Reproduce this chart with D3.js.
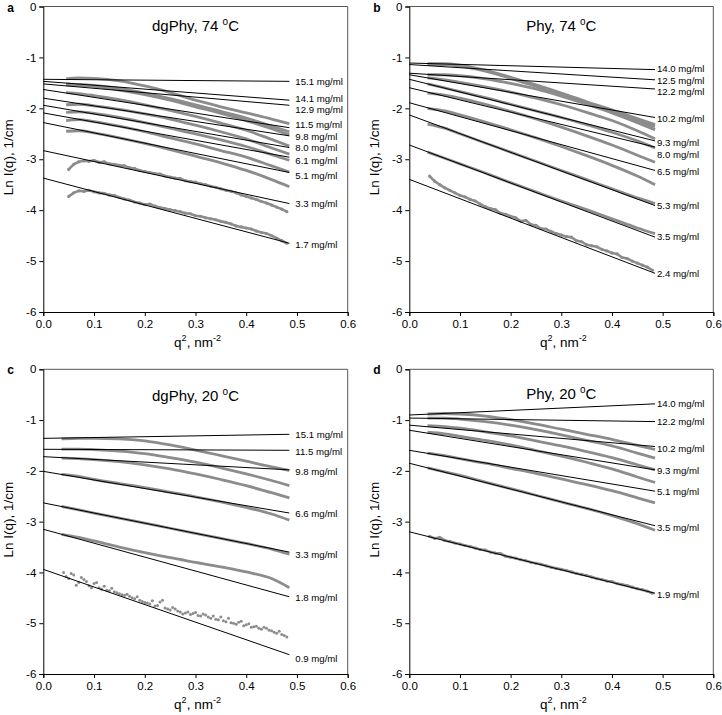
<!DOCTYPE html>
<html>
<head>
<meta charset="utf-8">
<script src="https://cdn.jsdelivr.net/npm/d3@7"></script>
<style>
body { margin: 0; background: #fff; }
text { font-family: Arial, "Liberation Sans", sans-serif; }
</style>
</head>
<body>
<svg id="fig" width="722" height="715"></svg>
<script>
// ---- data ----
const panelLetters = ['a', 'b', 'c', 'd'];
const panelNames = ['dgPhy, 74 ', 'Phy, 74 ', 'dgPhy, 20 ', 'Phy, 20 '];
const xTicks = [0, 0.1, 0.2, 0.3, 0.4, 0.5, 0.6];
const yTicks = [0, -1, -2, -3, -4, -5, -6];
const qFitEnd = 0.485;

// q^2 grids of the gray (measured) curves
const qSmoothA = [0.045, 0.07, 0.1, 0.15, 0.2, 0.25, 0.3, 0.35, 0.4, 0.45, 0.485];
const qSmooth = [0.036, 0.07, 0.1, 0.15, 0.2, 0.25, 0.3, 0.35, 0.4, 0.45, 0.485];
const qFine = [0.04, 0.05, 0.06, 0.07, 0.08, 0.09, 0.10, 0.11, 0.12, 0.13, 0.14, 0.15,
  0.16, 0.17, 0.18, 0.19, 0.20, 0.21, 0.22, 0.23, 0.24, 0.25, 0.26, 0.27, 0.28, 0.29,
  0.30, 0.31, 0.32, 0.33, 0.34, 0.35, 0.36, 0.37, 0.38, 0.39, 0.40, 0.41, 0.42, 0.43,
  0.44, 0.45, 0.46, 0.47, 0.48];
const qFineMid = [0.045, 0.055, 0.065, 0.075, 0.085, 0.095, 0.105, 0.115, 0.125, 0.135,
  0.145, 0.155, 0.165, 0.175, 0.185, 0.195, 0.205, 0.215, 0.225, 0.235, 0.245, 0.255,
  0.265, 0.275, 0.285, 0.295, 0.305, 0.315, 0.325, 0.335, 0.345, 0.355, 0.365, 0.375,
  0.385, 0.395, 0.405, 0.415, 0.425, 0.435, 0.445, 0.455, 0.465, 0.475];

// panel a: dgPhy, 74 C
const concA = ['15.1', '14.1', '12.9', '11.5', '9.8', '8.0', '6.1', '5.1', '3.3', '1.7'];
const fitStartA = [-1.43, -1.47, -1.52, -1.63, -1.80, -1.94, -2.09, -2.28, -2.83, -3.37];
const fitEndA = [-1.47, -1.84, -1.94, -2.38, -2.54, -2.77, -2.96, -3.26, -3.87, -4.65];
const labelAtA = [-1.48, -1.80, -2.02, -2.33, -2.55, -2.77, -3.03, -3.32, -3.87, -4.67];
const grayA = [
  [-1.42, -1.40, -1.41, -1.46, -1.56, -1.69, -1.84, -1.97, -2.09, -2.21, -2.30],
  [-1.52, -1.53, -1.55, -1.61, -1.70, -1.81, -1.93, -2.06, -2.19, -2.35, -2.46],
  [-1.54, -1.55, -1.57, -1.64, -1.73, -1.84, -1.97, -2.10, -2.24, -2.40, -2.52],
  [-1.69, -1.71, -1.75, -1.83, -1.93, -2.04, -2.16, -2.29, -2.43, -2.61, -2.74],
  [-1.93, -1.92, -1.95, -2.02, -2.11, -2.21, -2.33, -2.46, -2.60, -2.78, -2.90],
  [-2.08, -2.07, -2.10, -2.18, -2.28, -2.39, -2.50, -2.62, -2.75, -2.91, -3.02],
  [-2.24, -2.22, -2.26, -2.35, -2.46, -2.58, -2.70, -2.83, -2.96, -3.13, -3.25],
  [-2.45, -2.44, -2.48, -2.58, -2.69, -2.81, -2.94, -3.07, -3.22, -3.40, -3.54]
];
const noisyA33 = [null, -3.20, -3.10, -3.05, -3.03, -3.04, -3.02, -3.06, -3.05, -3.09, -3.10,
  -3.12, -3.13, -3.17, -3.18, -3.22, -3.24, -3.26, -3.28, -3.29, -3.33, -3.35, -3.37, -3.38,
  -3.42, -3.44, -3.45, -3.48, -3.50, -3.53, -3.55, -3.58, -3.61, -3.63, -3.66, -3.70, -3.73,
  -3.76, -3.79, -3.83, -3.86, -3.90, -3.94, -3.98, -4.03];
const noisyA17 = [null, -3.73, -3.66, -3.62, -3.63, -3.61, -3.64, -3.66, -3.67, -3.70, -3.71,
  -3.75, -3.78, -3.80, -3.84, -3.86, -3.89, -3.88, -3.92, -3.95, -3.97, -3.99, -4.01, -4.03,
  -4.06, -4.07, -4.11, -4.12, -4.15, -4.17, -4.19, -4.22, -4.24, -4.27, -4.31, -4.33, -4.35,
  -4.37, -4.41, -4.44, -4.46, -4.50, -4.55, -4.60, -4.65];

// panel b: Phy, 74 C
const concB = ['14.0', '12.5', '12.2', '10.2', '9.3', '8.0', '6.5', '5.3', '3.5', '2.4'];
const fitStartB = [-1.11, -1.14, -1.31, -1.34, -1.43, -1.595, -1.89, -2.13, -2.72, -3.395];
const fitEndB = [-1.24, -1.44, -1.62, -2.18, -2.64, -2.76, -3.22, -3.91, -4.53, -5.24];
const labelAtB = [-1.23, -1.45, -1.67, -2.21, -2.67, -2.90, -3.25, -3.91, -4.52, -5.24];
const grayB = [
  [-1.12, -1.12, -1.15, -1.25, -1.39, -1.54, -1.70, -1.87, -2.03, -2.20, -2.32],
  [-1.14, -1.14, -1.17, -1.27, -1.41, -1.57, -1.73, -1.90, -2.07, -2.24, -2.36],
  [-1.34, -1.34, -1.36, -1.42, -1.51, -1.62, -1.76, -1.92, -2.09, -2.28, -2.42],
  [-1.40, -1.44, -1.49, -1.58, -1.68, -1.80, -1.93, -2.08, -2.24, -2.44, -2.60],
  [-1.52, -1.60, -1.67, -1.79, -1.92, -2.05, -2.18, -2.32, -2.47, -2.64, -2.78],
  [-1.70, -1.74, -1.80, -1.92, -2.06, -2.21, -2.37, -2.54, -2.72, -2.92, -3.06],
  [-2.00, -2.05, -2.13, -2.27, -2.42, -2.58, -2.75, -2.93, -3.12, -3.33, -3.50],
  [-2.31, -2.39, -2.50, -2.68, -2.86, -3.04, -3.22, -3.40, -3.58, -3.76, -3.87],
  [-2.86, -2.98, -3.09, -3.27, -3.46, -3.64, -3.82, -3.99, -4.17, -4.35, -4.46]
];
const noisyB24 = [-3.33, -3.43, -3.50, -3.56, -3.61, -3.66, -3.71, -3.74, -3.79, -3.82, -3.88,
  -3.93, -3.97, -3.99, -4.06, -4.08, -4.12, -4.15, -4.22, -4.20, -4.28, -4.30, -4.36, -4.37,
  -4.42, -4.46, -4.49, -4.52, -4.53, -4.60, -4.62, -4.68, -4.70, -4.72, -4.77, -4.80, -4.84,
  -4.86, -4.93, -4.95, -5.00, -5.04, -5.08, -5.12, -5.18];

// panel c: dgPhy, 20 C
const concC = ['15.1', '11.5', '9.8', '6.6', '3.3', '1.8', '0.9'];
const fitStartC = [-1.36, -1.575, -1.72, -2.01, -2.63, -3.15, -3.94];
const fitEndC = [-1.28, -1.595, -1.98, -2.83, -3.60, -4.48, -5.62];
const labelAtC = [-1.29, -1.62, -2.02, -2.85, -3.64, -4.49, -5.69];
const grayC = [
  [-1.37, -1.36, -1.36, -1.37, -1.41, -1.49, -1.59, -1.70, -1.81, -1.92, -1.99],
  [-1.57, -1.57, -1.58, -1.61, -1.66, -1.74, -1.83, -1.94, -2.06, -2.19, -2.29],
  [-1.75, -1.76, -1.78, -1.82, -1.88, -1.96, -2.06, -2.17, -2.29, -2.43, -2.53],
  [-2.07, -2.11, -2.17, -2.25, -2.33, -2.42, -2.51, -2.61, -2.72, -2.85, -2.97],
  [-2.70, -2.77, -2.83, -2.93, -3.03, -3.13, -3.23, -3.33, -3.43, -3.54, -3.64],
  [-3.25, -3.31, -3.38, -3.50, -3.61, -3.71, -3.80, -3.89, -3.99, -4.12, -4.30]
];
const dotsC09 = [-4.00, -4.12, -4.05, -4.20, -4.14, -4.26, -4.22, -4.30, -4.27, -4.36, -4.38,
  -4.42, -4.45, -4.47, -4.52, -4.55, -4.59, -4.62, -4.66, -4.58, -4.70, -4.74, -4.72, -4.78,
  -4.80, -4.83, -4.79, -4.86, -4.84, -4.90, -4.92, -4.88, -4.97, -4.99, -5.02, -4.96, -5.03,
  -5.08, -5.06, -5.12, -5.10, -5.15, -5.20, -5.22, -5.27];
const dotsC09Mid = [-4.08, -4.02, -4.25, -4.10, -4.18, -4.30, -4.20, -4.33, -4.35, -4.31,
  -4.40, -4.44, -4.43, -4.50, -4.48, -4.57, -4.60, -4.56, -4.65, -4.55, -4.72, -4.69, -4.76,
  -4.82, -4.78, -4.81, -4.85, -4.82, -4.88, -4.86, -4.93, -4.95, -4.90, -5.00, -4.98, -5.05,
  -5.01, -5.07, -5.10, -5.08, -5.14, -5.18, -5.16, -5.24];

// panel d: Phy, 20 C
const concD = ['14.0', '12.2', '10.2', '9.3', '5.1', '3.5', '1.9'];
const fitStartD = [-0.90, -0.96, -1.10, -1.20, -1.595, -1.85, -3.20];
const fitEndD = [-0.68, -1.03, -1.52, -1.98, -2.40, -3.08, -4.41];
const labelAtD = [-0.68, -1.03, -1.56, -2.00, -2.41, -3.11, -4.43];
const grayD = [
  [-0.88, -0.87, -0.88, -0.92, -0.99, -1.08, -1.18, -1.28, -1.38, -1.50, -1.58],
  [-0.96, -0.96, -0.98, -1.03, -1.10, -1.19, -1.29, -1.40, -1.51, -1.65, -1.75],
  [-1.11, -1.13, -1.16, -1.23, -1.31, -1.41, -1.51, -1.62, -1.74, -1.88, -1.98],
  [-1.24, -1.27, -1.32, -1.40, -1.49, -1.60, -1.71, -1.83, -1.96, -2.12, -2.23],
  [-1.65, -1.70, -1.76, -1.85, -1.95, -2.05, -2.16, -2.27, -2.39, -2.53, -2.63],
  [-1.94, -2.02, -2.09, -2.22, -2.35, -2.48, -2.61, -2.74, -2.88, -3.04, -3.17]
];
const noisyD19 = [-3.29, -3.33, -3.31, -3.37, -3.39, -3.42, -3.44, -3.47, -3.49, -3.52, -3.55,
  -3.56, -3.60, -3.62, -3.63, -3.68, -3.70, -3.72, -3.75, -3.77, -3.80, -3.82, -3.84, -3.87,
  -3.90, -3.92, -3.94, -3.96, -3.99, -4.02, -4.04, -4.06, -4.09, -4.12, -4.14, -4.17, -4.18,
  -4.22, -4.24, -4.26, -4.29, -4.32, -4.34, -4.37, -4.41];

// ---- layout ----
const boxes = [
  {x0: 43.3, x1: 347.7, y0: 6.5, y1: 312},
  {x0: 409.3, x1: 713.3, y0: 6.5, y1: 312},
  {x0: 43.3, x1: 347.7, y0: 369.3, y1: 674},
  {x0: 409.3, x1: 713.3, y0: 369.3, y1: 674}
];
const titleDy = [24, 24, 31.5, 30];
const labelGap = [6, 2, 6, 2];
const grayCol = '#8c8c8c';

const panels = [
  {conc: concA, f0: fitStartA, f1: fitEndA, lab: labelAtA, qs: qSmoothA, smooth: grayA,
   noisy: [noisyA33, noisyA17], dots: []},
  {conc: concB, f0: fitStartB, f1: fitEndB, lab: labelAtB, qs: qSmooth, smooth: grayB,
   noisy: [noisyB24], dots: []},
  {conc: concC, f0: fitStartC, f1: fitEndC, lab: labelAtC, qs: qSmooth, smooth: grayC,
   noisy: [], dots: [[qFine, dotsC09], [qFineMid, dotsC09Mid]]},
  {conc: concD, f0: fitStartD, f1: fitEndD, lab: labelAtD, qs: qSmooth, smooth: grayD,
   noisy: [noisyD19], dots: []}
];

const svg = d3.select('#fig');
svg.append('rect').attr('width', 722).attr('height', 715).attr('fill', '#fff');

function drawPanel(p, b, k) {
  const x = d3.scaleLinear().domain([0, 0.6]).range([b.x0, b.x1]);
  const y = d3.scaleLinear().domain([-6, 0]).range([b.y1, b.y0]);
  const g = svg.append('g');

  // frame (top / right)
  g.append('path')
    .attr('d', `M${b.x0},${b.y0}H${b.x1}V${b.y1}`)
    .attr('fill', 'none')
    .attr('stroke', '#555')
    .attr('stroke-width', 1);

  const smoothLine = d3.line()
    .x(d => x(d[0])).y(d => y(d[1]))
    .curve(d3.curveMonotoneX);
  const rawLine = d3.line()
    .defined(d => d[1] != null)
    .x(d => x(d[0])).y(d => y(d[1]));

  // measured curves
  p.smooth.forEach(vals => {
    g.append('path')
      .datum(p.qs.map((q, i) => [q, vals[i]]))
      .attr('d', smoothLine)
      .attr('fill', 'none')
      .attr('stroke', grayCol)
      .attr('stroke-width', 2.8);
  });
  p.noisy.forEach(vals => {
    const pts = qFine.map((q, i) => [q, vals[i]]);
    g.append('path')
      .datum(pts)
      .attr('d', rawLine)
      .attr('fill', 'none')
      .attr('stroke', grayCol)
      .attr('stroke-width', 2.6);
    g.selectAll(null)
      .data(pts.filter(d => d[1] != null))
      .enter().append('circle')
      .attr('cx', d => x(d[0]))
      .attr('cy', d => y(d[1]))
      .attr('r', 1.6)
      .attr('fill', grayCol);
  });
  p.dots.forEach(([qs, vals]) => {
    g.selectAll(null)
      .data(qs.map((q, i) => [q, vals[i]]))
      .enter().append('circle')
      .attr('cx', d => x(d[0]))
      .attr('cy', d => y(d[1]))
      .attr('r', 1.5)
      .attr('fill', grayCol);
  });

  // linear fits
  g.selectAll('.fit')
    .data(p.f0)
    .enter().append('line')
    .attr('class', 'fit')
    .attr('x1', x(0))
    .attr('x2', x(qFitEnd))
    .attr('y1', d => y(d))
    .attr('y2', (_, i) => y(p.f1[i]))
    .attr('stroke', '#000')
    .attr('stroke-width', 1);

  // concentration labels
  g.selectAll('.lab')
    .data(p.conc)
    .enter().append('text')
    .attr('class', 'lab')
    .attr('x', x(qFitEnd) + labelGap[k])
    .attr('y', (_, i) => y(p.lab[i]))
    .attr('dy', '0.35em')
    .attr('font-size', 9.6)
    .attr('fill', '#000')
    .text(d => d + ' mg/ml');

  // axes
  const ax = g.append('g')
    .attr('transform', `translate(${b.x0},0)`)
    .call(d3.axisLeft(y).tickValues(yTicks).tickSize(4).tickPadding(3)
      .tickFormat(d => String(d)));
  const bx = g.append('g')
    .attr('transform', `translate(0,${b.y1})`)
    .call(d3.axisBottom(x).tickValues(xTicks).tickSize(4).tickPadding(4)
      .tickFormat(d3.format('.1f')));
  [ax, bx].forEach(a => {
    a.select('.domain').attr('stroke', '#000');
    a.selectAll('text')
      .attr('font-size', 11.5)
      .attr('font-family', 'Arial, "Liberation Sans", sans-serif');
  });

  // title
  const t = g.append('text')
    .attr('x', (b.x0 + b.x1) / 2)
    .attr('y', b.y0 + titleDy[k])
    .attr('text-anchor', 'middle')
    .attr('font-size', 15);
  t.append('tspan').text(panelNames[k]);
  t.append('tspan').attr('font-size', 10).attr('dy', -6).text('o');
  t.append('tspan').attr('dy', 6).text('C');

  // panel letter
  g.append('text')
    .attr('x', b.x0 - 36)
    .attr('y', b.y0 + 5)
    .attr('font-size', 12)
    .attr('font-weight', 'bold')
    .text(panelLetters[k]);

  // y label
  const cy = (b.y0 + b.y1) / 2 - 2;
  g.append('text')
    .attr('transform', `translate(${b.x0 - 30},${cy}) rotate(-90)`)
    .attr('text-anchor', 'middle')
    .attr('font-size', 13.5)
    .text('Ln I(q), 1/cm');

  // x label
  const xl = g.append('text')
    .attr('x', (b.x0 + b.x1) / 2 + 2)
    .attr('y', b.y1 + 35)
    .attr('text-anchor', 'middle')
    .attr('font-size', 13.5);
  xl.append('tspan').text('q');
  xl.append('tspan').attr('font-size', 9).attr('dy', -6).text('2');
  xl.append('tspan').attr('dy', 6).text(', nm');
  xl.append('tspan').attr('font-size', 9).attr('dy', -6).text('-2');
}

panels.forEach((p, k) => drawPanel(p, boxes[k], k));
</script>
</body>
</html>
